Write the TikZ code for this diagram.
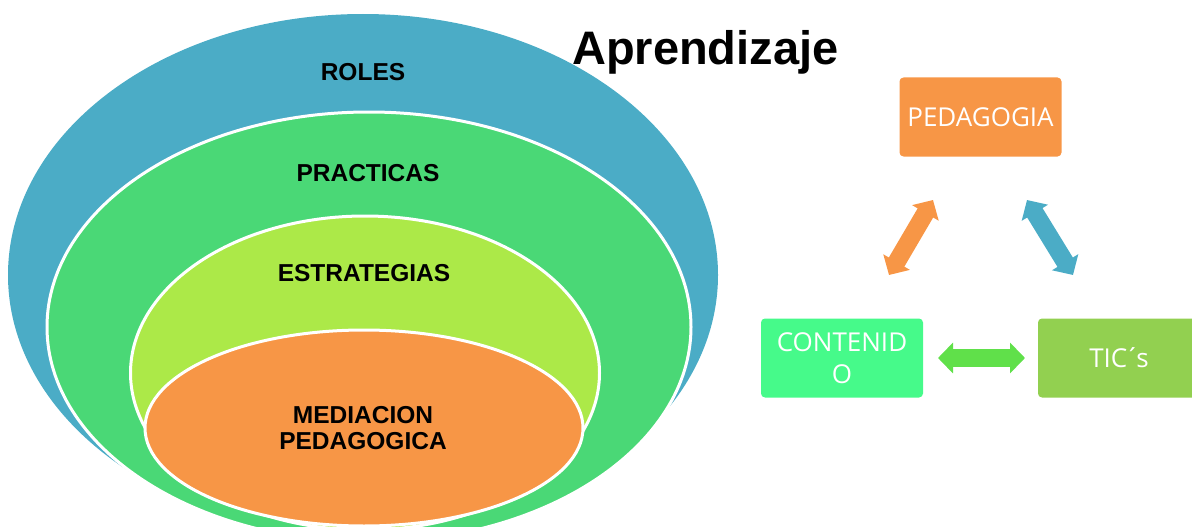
\documentclass[tikz,border=0pt]{standalone}
\usepackage{fontspec}
\setmainfont{Liberation Sans}
\newfontfamily\boxfont{Open Sans}
\usetikzlibrary{shapes.geometric,arrows.meta}
\definecolor{cblue}{HTML}{4BACC6}
\definecolor{cgreen}{HTML}{4AD876}
\definecolor{clgreen}{HTML}{ACE948}
\definecolor{corange}{HTML}{F79646}
\definecolor{cmint}{HTML}{46FA8A}
\definecolor{ctic}{HTML}{92D050}
\definecolor{carrowg}{HTML}{60E04A}
\tikzset{
  ring/.style={ellipse, draw=white, line width=3pt, inner sep=0pt},
  ringtext/.style={font=\fontsize{24.5}{26}\selectfont\bfseries, align=center, inner sep=0pt},
  topicbox/.style={rounded corners=4pt, minimum width=162pt, minimum height=79pt, inner sep=0pt,
    font=\boxfont\fontsize{26}{32}\selectfont, text=white, align=center},
  dblarrow/.style={line width=18pt,
    {Triangle[width=30pt,length=15pt]}-{Triangle[width=30pt,length=15pt]}}
}
\begin{document}
\begin{tikzpicture}[x=1pt,y=-1pt]
\useasboundingbox (0,0) rectangle (1192,527);
\begin{scope}
\clip (0,0) rectangle (1192,527);
\node[ring, draw=none, fill=cblue, minimum width=710pt, minimum height=522pt] (roles) at (363,275) {};
\node[ring, fill=cgreen, minimum width=644pt, minimum height=430pt] (practicas) at (369,327) {};
\node[ring, fill=clgreen, minimum width=469pt, minimum height=314pt] (estrategias) at (365,373) {};
\node[ring, fill=corange, minimum width=438pt, minimum height=196pt] (mediacion) at (364,428) {};
\end{scope}
\node[ringtext] (troles) at (363,72) {ROLES};
\node[ringtext] (tpracticas) at (368,173) {PRACTICAS};
\node[ringtext] (testrategias) at (364,273) {ESTRATEGIAS};
\node[ringtext] (tmediacion) at (363,428) {MEDIACION\\PEDAGOGICA};
\node[anchor=base west, inner sep=0pt, font=\fontsize{47}{50}\selectfont\bfseries] (title) at (572,65) {Aprendizaje};
\begin{scope}
\clip (0,0) rectangle (1192,527);
\node[topicbox, fill=corange] (pedagogia) at (980.5,117) {PEDAGOGIA};
\node[topicbox, fill=cmint] (contenido) at (842,358) {CONTENID\\O};
\node[topicbox, fill=ctic] (tics) at (1119,358) {TIC\kern-2.5pt´\kern-3.5pt s};
\end{scope}
\coordinate (oa) at (889,275);
\coordinate (ob) at (933,200);
\coordinate (ba) at (1027,200);
\coordinate (bb) at (1073,275);
\coordinate (ga) at (938,358);
\coordinate (gb) at (1025,358);
\draw[dblarrow, draw=corange, fill=corange] (oa) -- (ob);
\draw[dblarrow, draw=cblue, fill=cblue] (ba) -- (bb);
\draw[dblarrow, draw=carrowg, fill=carrowg] (ga) -- (gb);
\end{tikzpicture}
\end{document}
